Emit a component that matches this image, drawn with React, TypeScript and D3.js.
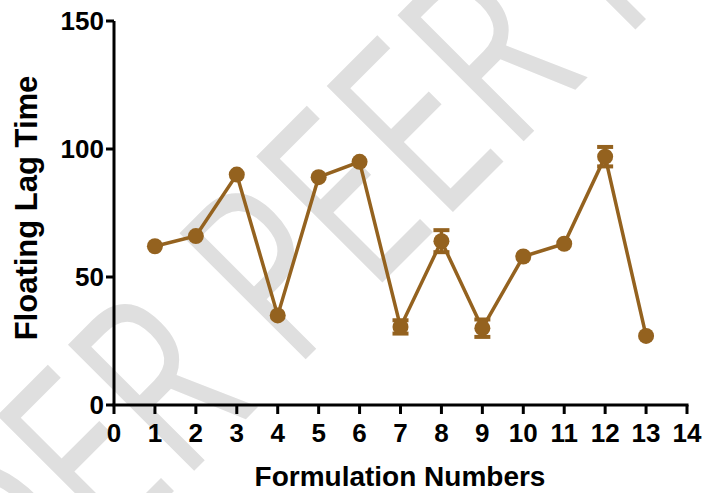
import React from "react";
import * as d3 from "d3";

const formulations = [1, 2, 3, 4, 5, 6, 7, 8, 9, 10, 11, 12, 13];
const lagTime = [62, 66, 90, 35, 89, 95, 30.5, 64, 30, 58, 63, 97, 27];
const lagErr = [0, 0, 0, 0, 0, 0, 2.6, 4.3, 3.4, 0, 0, 3.8, 0];
const xTicks = [0, 1, 2, 3, 4, 5, 6, 7, 8, 9, 10, 11, 12, 13, 14];
const yTicks = [0, 50, 100, 150];

const W = 704;
const H = 493;
const COLOR = "#94621f";
const FONT = "'Liberation Sans', Arial, sans-serif";

export default function App() {
  const x = d3.scaleLinear().domain([0, 14]).range([114, 687]);
  const y = d3.scaleLinear().domain([0, 150]).range([405, 21]);
  const pts = formulations.map((f, i) => ({ f, v: lagTime[i], e: lagErr[i] }));
  const line = d3
    .line<{ f: number; v: number }>()
    .x((d) => x(d.f))
    .y((d) => y(d.v));

  return (
    <svg
      width={W}
      height={H}
      style={{ position: "absolute", left: 0, top: 0, background: "#fff" }}
    >
      <rect width={W} height={H} fill="#fff" />
      <text
        transform="translate(-170,835) rotate(-45) scale(0.72,1)"
        fontFamily="'Open Sans', 'DejaVu Sans', sans-serif"
        fontSize={250}
        fill="#dfdfdf"
      >
        UNDER PEER REVIEW
      </text>

      {/* axes */}
      <line x1={x(0)} x2={x(0)} y1={y(150)} y2={y(0)} stroke="#000" strokeWidth={3} />
      <line x1={x(0) - 1.5} x2={x(14) + 1.5} y1={y(0)} y2={y(0)} stroke="#000" strokeWidth={3} />
      {yTicks.map((t) => (
        <g key={"y" + t}>
          <line x1={x(0) - 8} x2={x(0)} y1={y(t)} y2={y(t)} stroke="#000" strokeWidth={3} />
          <text
            x={x(0) - 10}
            y={y(t)}
            dy="0.36em"
            textAnchor="end"
            fontFamily={FONT}
            fontWeight="bold"
            fontSize={26}
            fill="#000"
          >
            {t}
          </text>
        </g>
      ))}
      {xTicks.map((t) => (
        <g key={"x" + t}>
          <line x1={x(t)} x2={x(t)} y1={y(0)} y2={y(0) + 9} stroke="#000" strokeWidth={3} />
          <text
            x={x(t)}
            y={y(0) + 37}
            textAnchor="middle"
            fontFamily={FONT}
            fontWeight="bold"
            fontSize={26}
            fill="#000"
          >
            {t}
          </text>
        </g>
      ))}
      <text
        x={400}
        y={486}
        textAnchor="middle"
        fontFamily={FONT}
        fontWeight="bold"
        fontSize={28}
        fill="#000"
      >
        Formulation Numbers
      </text>
      <text
        transform={`translate(37,${(73 + 343) / 2}) rotate(-90)`}
        textAnchor="middle"
        fontFamily={FONT}
        fontWeight="bold"
        fontSize={31}
        fill="#000"
      >
        Floating Lag Time
      </text>

      {/* data */}
      <path d={line(pts) || ""} fill="none" stroke={COLOR} strokeWidth={3.5} />
      {pts
        .filter((p) => p.e > 0)
        .map((p) => (
          <g key={"e" + p.f} stroke={COLOR} strokeWidth={3.5}>
            <line x1={x(p.f)} x2={x(p.f)} y1={y(p.v + p.e)} y2={y(p.v - p.e)} />
            <line x1={x(p.f) - 8} x2={x(p.f) + 8} y1={y(p.v + p.e)} y2={y(p.v + p.e)} strokeWidth={4} />
            <line x1={x(p.f) - 8} x2={x(p.f) + 8} y1={y(p.v - p.e)} y2={y(p.v - p.e)} strokeWidth={4} />
          </g>
        ))}
      {pts.map((p) => (
        <circle key={"c" + p.f} cx={x(p.f)} cy={y(p.v)} r={8} fill={COLOR} />
      ))}
    </svg>
  );
}
